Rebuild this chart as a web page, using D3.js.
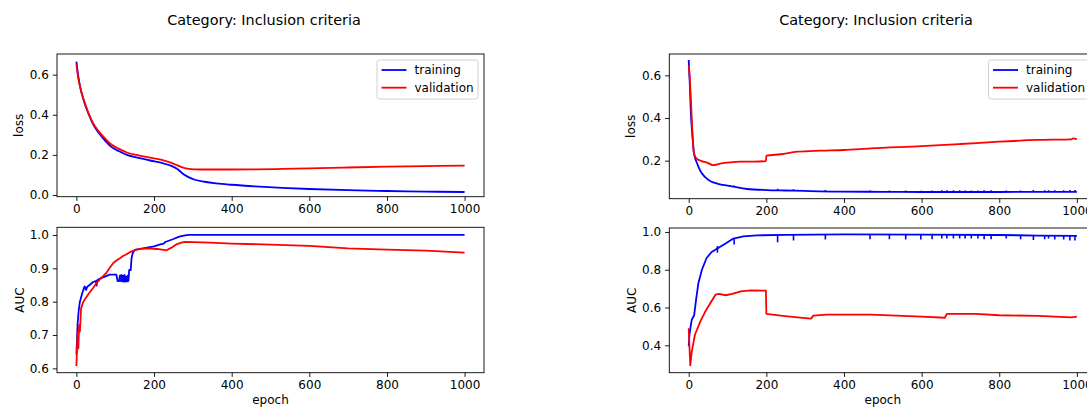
<!DOCTYPE html>
<html>
<head>
<meta charset="utf-8">
<script src="https://cdn.jsdelivr.net/npm/d3@7"></script>
<style>
  body { margin: 0; background: #fff; }
  svg { font-family: "DejaVu Sans", sans-serif; }
</style>
</head>
<body>
<div id="chart"></div>
<script>
// valores: [epoch, valor]
const xTicks = [0, 200, 400, 600, 800, 1000];

const leftLossTrain = [[0,0.665],[5,0.59],[10,0.535],[20,0.465],[30,0.41],[40,0.365],[50,0.33],[70,0.28],[90,0.24],[110,0.218],[130,0.2],[160,0.185],[190,0.172],[220,0.16],[245,0.145],[260,0.13],[275,0.105],[290,0.088],[305,0.076],[330,0.066],[360,0.058],[400,0.051],[460,0.043],[530,0.036],[600,0.03],[700,0.024],[800,0.02],[900,0.017],[1000,0.015]];
const leftLossVal = [[0,0.65],[5,0.58],[10,0.535],[20,0.468],[30,0.414],[40,0.37],[50,0.336],[70,0.29],[90,0.252],[110,0.23],[130,0.212],[160,0.197],[190,0.186],[220,0.175],[245,0.16],[260,0.148],[275,0.136],[290,0.13],[305,0.128],[330,0.127],[360,0.127],[400,0.127],[460,0.128],[530,0.13],[600,0.133],[700,0.137],[800,0.141],[900,0.144],[1000,0.146]];

const leftAucTrain = [[0,0.642],[3,0.731],[6,0.775],[9,0.8],[15,0.825],[21,0.846],[25,0.835],[28,0.845],[34,0.85],[43,0.859],[50,0.862],[52,0.848],[54,0.865],[60,0.869],[75,0.876],[86,0.881],[103,0.881],[106,0.862],[110,0.862],[112,0.878],[113,0.862],[116,0.88],[118,0.86],[120,0.878],[122,0.86],[124,0.88],[126,0.86],[128,0.875],[130,0.86],[132,0.878],[134,0.862],[136,0.895],[140,0.895],[142,0.93],[145,0.945],[150,0.955],[165,0.958],[182,0.962],[200,0.966],[216,0.972],[225,0.974],[229,0.979],[250,0.988],[265,0.995],[280,0.999],[290,1.0],[400,1.0],[600,1.0],[800,1.0],[1000,1.0]];
const leftAucVal = [[0,0.607],[3,0.71],[5,0.66],[7,0.73],[9,0.71],[12,0.78],[18,0.8],[24,0.811],[33,0.826],[43,0.841],[52,0.856],[60,0.866],[70,0.878],[77,0.886],[85,0.9],[95,0.916],[105,0.925],[112,0.93],[120,0.937],[129,0.942],[140,0.95],[152,0.955],[165,0.958],[182,0.96],[208,0.958],[220,0.956],[232,0.954],[245,0.962],[258,0.972],[270,0.977],[280,0.979],[344,0.977],[400,0.974],[500,0.971],[600,0.967],[700,0.96],[800,0.956],[900,0.953],[1000,0.947]];

const rightLossTrain = [[0,0.672],[3,0.55],[5,0.445],[8,0.35],[10,0.305],[13,0.242],[16,0.215],[20,0.195],[25,0.172],[29,0.156],[35,0.138],[46,0.117],[55,0.105],[63,0.098],[81,0.089],[100,0.083],[115,0.078],[150,0.067],[202,0.062],[250,0.06],[297,0.058],[383,0.055],[500,0.054],[600,0.053],[700,0.053],[800,0.053],[900,0.054],[1000,0.054]];
const rightLossVal = [[0,0.648],[3,0.58],[5,0.508],[7,0.43],[9,0.352],[11,0.29],[13,0.242],[16,0.222],[20,0.211],[33,0.198],[46,0.192],[63,0.179],[81,0.186],[107,0.192],[133,0.195],[168,0.195],[199,0.198],[200,0.223],[237,0.23],[280,0.242],[340,0.247],[400,0.25],[469,0.258],[600,0.268],[700,0.278],[800,0.289],[900,0.297],[985,0.3],[990,0.304],[1000,0.301]];

const rightAucTrain = [[0,0.395],[2,0.456],[5,0.5],[8,0.536],[14,0.559],[19,0.642],[25,0.73],[34,0.8],[46,0.862],[59,0.894],[76,0.915],[97,0.942],[115,0.965],[141,0.977],[176,0.982],[250,0.985],[400,0.987],[600,0.986],[800,0.984],[900,0.981],[1000,0.979]];
const rightAucVal = [[0,0.49],[4,0.294],[8,0.368],[16,0.456],[30,0.527],[43,0.58],[56,0.624],[69,0.668],[78,0.672],[95,0.665],[112,0.672],[134,0.686],[160,0.691],[199,0.689],[200,0.566],[237,0.557],[280,0.548],[315,0.541],[321,0.557],[357,0.562],[469,0.562],[600,0.552],[660,0.546],[665,0.566],[740,0.566],[800,0.559],[900,0.556],[985,0.548],[1000,0.552]];

// picos do treino (direita): [epoch, topo, fundo]
const rightAucSpikes = [[74,0.926,0.89],[117,0.967,0.933],[229,0.984,0.945],[270,0.985,0.955],[352,0.986,0.96],[467,0.987,0.962],[517,0.987,0.962],[559,0.986,0.96],[598,0.986,0.96],[627,0.986,0.962],[652,0.985,0.965],[665,0.985,0.965],[682,0.985,0.965],[698,0.985,0.965],[712,0.985,0.965],[728,0.985,0.965],[745,0.984,0.965],[761,0.984,0.962],[779,0.984,0.962],[818,0.983,0.965],[855,0.982,0.962],[888,0.981,0.958],[917,0.98,0.962],[927,0.98,0.965],[943,0.98,0.96],[966,0.98,0.96],[982,0.979,0.955],[995,0.979,0.955]];
const rightLossSpikes = [[117,0.078,0.084],[229,0.061,0.068],[270,0.06,0.066],[352,0.056,0.062],[467,0.054,0.06],[517,0.054,0.06],[559,0.054,0.06],[598,0.053,0.059],[627,0.053,0.06],[652,0.053,0.061],[665,0.053,0.061],[682,0.053,0.061],[698,0.053,0.061],[712,0.053,0.06],[728,0.053,0.06],[745,0.053,0.06],[761,0.053,0.061],[779,0.053,0.061],[818,0.053,0.06],[855,0.054,0.06],[888,0.054,0.062],[917,0.054,0.061],[927,0.054,0.061],[943,0.054,0.061],[966,0.054,0.061],[982,0.054,0.062],[995,0.054,0.062]];

const titulo = "Category: Inclusion criteria";
const legendas = ["training", "validation"];
const cores = ["#0000ff", "#ff0000"];

const W = 1087, H = 407;
const fonte = "12px";
const svg = d3.select("#chart").append("svg")
    .attr("width", W)
    .attr("height", H);

let clipId = 0;

function painel(cfg) {
  const x = d3.scaleLinear().domain([-50, 1050]).range([cfg.x0, cfg.x1]);
  const y = d3.scaleLinear().domain(cfg.yDomain).range([cfg.y1, cfg.y0]);

  const id = "clip" + (clipId++);
  svg.append("clipPath").attr("id", id)
    .append("rect")
    .attr("x", cfg.x0).attr("y", cfg.y0)
    .attr("width", cfg.x1 - cfg.x0).attr("height", cfg.y1 - cfg.y0);

  const g = svg.append("g").attr("clip-path", `url(#${id})`);

  const linha = d3.line()
      .x(d => x(d[0]))
      .y(d => y(d[1]))
      .curve(cfg.curve || d3.curveLinear);

  cfg.series.forEach((s, i) => {
    g.append("path")
      .attr("d", linha(s))
      .attr("fill", "none")
      .attr("stroke", cores[i])
      .attr("stroke-width", 1.8)
      .attr("stroke-linejoin", "round");
  });

  if (cfg.spikes) {
    g.selectAll("line.spike")
      .data(cfg.spikes)
      .enter()
      .append("line")
      .attr("x1", d => x(d[0]))
      .attr("x2", d => x(d[0]))
      .attr("y1", d => y(d[1]))
      .attr("y2", d => y(d[2]))
      .attr("stroke", cores[0])
      .attr("stroke-width", 1.6);
  }

  // eixos
  const ax = svg.append("g")
      .attr("transform", `translate(0, ${cfg.y1})`)
      .call(d3.axisBottom(x).tickValues(xTicks).tickSize(4.2).tickPadding(4).tickFormat(d3.format("d")));
  const ay = svg.append("g")
      .attr("transform", `translate(${cfg.x0}, 0)`)
      .call(d3.axisLeft(y).tickValues(cfg.yTicks).tickSize(4.2).tickPadding(4).tickFormat(d3.format(".1f")));

  [ax, ay].forEach(a => {
    a.select(".domain").remove();
    a.selectAll("line").attr("stroke", "#000").attr("stroke-width", 0.9);
    a.selectAll("text").attr("font-size", fonte).attr("fill", "#000")
      .attr("font-family", "DejaVu Sans, sans-serif");
  });

  svg.append("rect")
    .attr("x", cfg.x0).attr("y", cfg.y0)
    .attr("width", cfg.x1 - cfg.x0).attr("height", cfg.y1 - cfg.y0)
    .attr("fill", "none")
    .attr("stroke", "#000")
    .attr("stroke-width", 0.9);

  svg.append("text")
    .attr("transform", `translate(${cfg.ylabelX}, ${(cfg.y0 + cfg.y1) / 2}) rotate(-90)`)
    .attr("text-anchor", "middle")
    .attr("dy", "0.35em")
    .attr("font-size", fonte)
    .text(cfg.ylabel);

  if (cfg.xlabel) {
    svg.append("text")
      .attr("x", x(500))
      .attr("y", 404)
      .attr("text-anchor", "middle")
      .attr("font-size", fonte)
      .text(cfg.xlabel);
  }

  if (cfg.legend) {
    const lx = cfg.legend[0], ly = cfg.legend[1];
    const leg = svg.append("g").attr("transform", `translate(${lx}, ${ly})`);
    leg.append("rect")
      .attr("width", 101).attr("height", 39)
      .attr("rx", 2.5)
      .attr("fill", "#fff").attr("fill-opacity", 0.8)
      .attr("stroke", "#cccccc").attr("stroke-width", 0.9);
    legendas.forEach((t, i) => {
      const yy = 10 + i * 17.7;
      leg.append("line")
        .attr("x1", 4.5).attr("x2", 29.5)
        .attr("y1", yy).attr("y2", yy)
        .attr("stroke", cores[i]).attr("stroke-width", 1.8);
      leg.append("text")
        .attr("x", 37.5).attr("y", yy + 4.2)
        .attr("font-size", fonte)
        .text(t);
    });
  }
}

// figura esquerda
painel({
  x0: 57, x1: 484, y0: 54, y1: 196.7,
  yDomain: [-0.0085, 0.703], yTicks: [0, 0.2, 0.4, 0.6],
  series: [leftLossTrain, leftLossVal], curve: d3.curveMonotoneX,
  ylabel: "loss", ylabelX: 19, legend: [377, 60]
});
painel({
  x0: 57, x1: 484, y0: 227.3, y1: 372.7,
  yDomain: [0.587, 1.023], yTicks: [0.6, 0.7, 0.8, 0.9, 1.0],
  series: [leftAucTrain, leftAucVal],
  ylabel: "AUC", ylabelX: 20, xlabel: "epoch"
});

// figura direita
painel({
  x0: 669.3, x1: 1096.3, y0: 54, y1: 198.7,
  yDomain: [0.0216, 0.70], yTicks: [0.2, 0.4, 0.6],
  series: [rightLossTrain, rightLossVal], curve: d3.curveMonotoneX,
  spikes: rightLossSpikes,
  ylabel: "loss", ylabelX: 631, legend: [988.5, 60]
});
painel({
  x0: 669.3, x1: 1096.3, y0: 228, y1: 372.7,
  yDomain: [0.255, 1.021], yTicks: [0.4, 0.6, 0.8, 1.0],
  series: [rightAucTrain, rightAucVal],
  spikes: rightAucSpikes,
  ylabel: "AUC", ylabelX: 632, xlabel: "epoch"
});

[264, 876].forEach(cx => {
  svg.append("text")
    .attr("x", cx)
    .attr("y", 24.5)
    .attr("text-anchor", "middle")
    .attr("font-size", "14.4px")
    .text(titulo);
});
</script>
</body>
</html>
